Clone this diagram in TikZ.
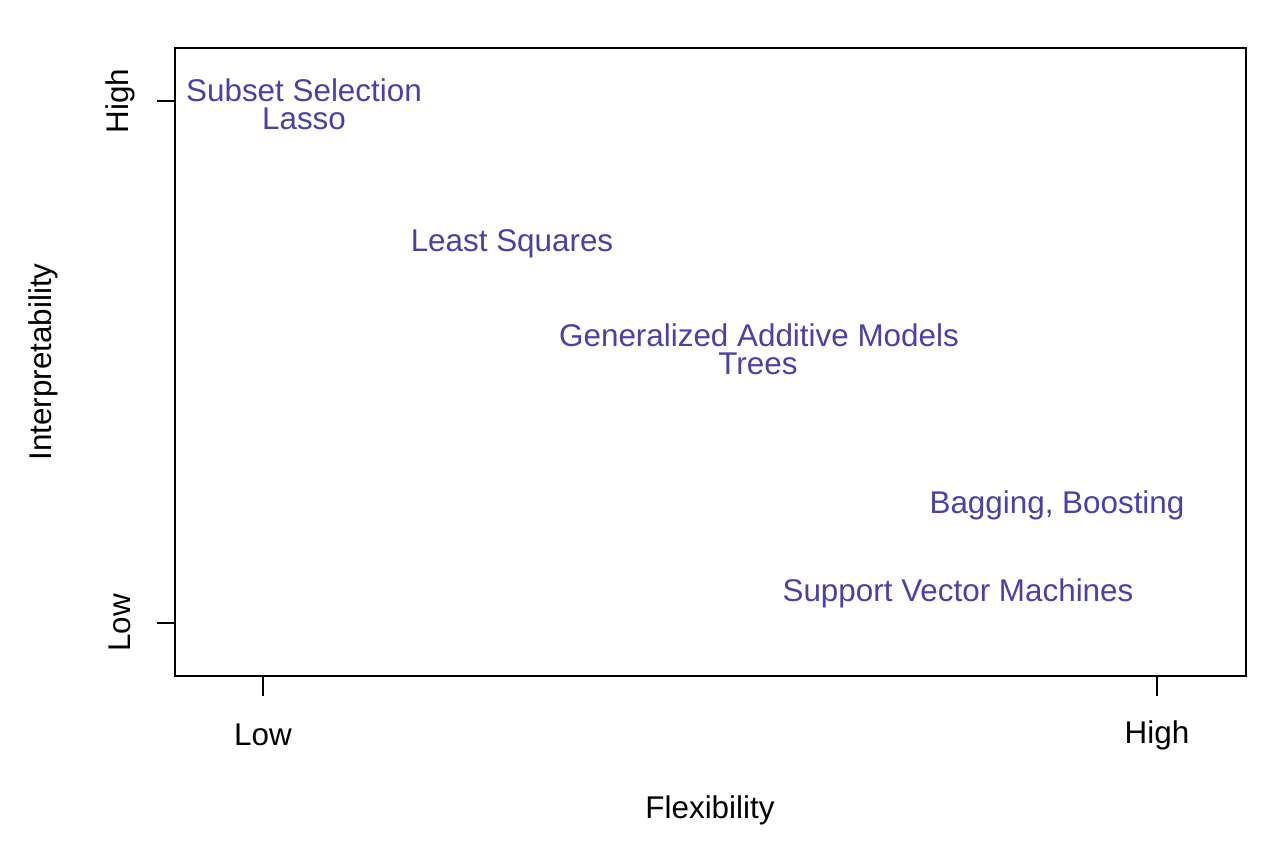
\documentclass[tikz,border=0pt]{standalone}
\usepackage{fontspec}
\setmainfont{Liberation Sans}
\definecolor{lab}{HTML}{4B3FA8}
\begin{document}
\begin{tikzpicture}[x=0.5pt,y=-0.5pt,
  lbl/.style={text=lab,font=\fontsize{15.7}{18}\selectfont,inner sep=0pt,anchor=center},
  ax/.style={text=black,font=\fontsize{15.7}{18}\selectfont,inner sep=0pt,anchor=center}]
\useasboundingbox (0,0) rectangle (1287,850);
\draw[line width=0.8pt] (175,48) rectangle (1246,676);
\foreach \x/\t [count=\i] in {263/Low,1157/High}{
  \draw[line width=0.8pt] (\x,676) -- (\x,696);
  \node[ax] (xt\i) at (\x,735) {\t};}
\foreach \y/\t [count=\i] in {101/High,623/Low}{
  \draw[line width=0.8pt] (157,\y) -- (175,\y);
  \node[ax,rotate=90] (yt\i) at (120,\y) {\t};}
\node[ax,rotate=90] (ylab) at (43,362) {Interpretability};
\node[ax] (xlab) at (710,810) {Flexibility};
\node[lbl] (ss) at (304,90) {Subset Selection};
\node[lbl] (la) at (304,119) {Lasso};
\node[lbl] (ls) at (512,244) {Least Squares};
\node[lbl] (gam) at (759,335) {Generalized Additive Models};
\node[lbl] (tr) at (758,364) {Trees};
\node[lbl] (bb) at (1057,505) {Bagging, Boosting};
\node[lbl] (svm) at (958,593) {Support Vector Machines};
\end{tikzpicture}
\end{document}
